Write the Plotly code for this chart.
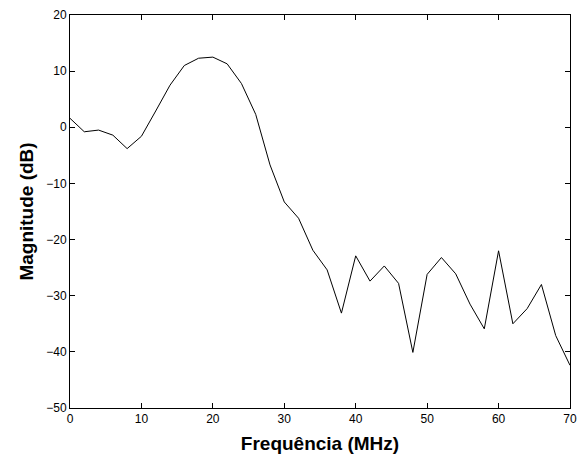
import plotly.graph_objects as go

freq_mhz = list(range(0, 72, 2))
magnitude_db = [1.6, -0.8, -0.5, -1.4, -3.8, -1.6, 2.9, 7.5, 11.0, 12.3, 12.5, 11.3,
                7.8, 2.3, -6.7, -13.3, -16.2, -21.9, -25.4, -33.1, -22.9, -27.4,
                -24.7, -27.8, -40.1, -26.2, -23.2, -26.1, -31.5, -35.9, -22.0,
                -35.0, -32.3, -28.0, -37.1, -42.4]

x_ticks = [0, 10, 20, 30, 40, 50, 60, 70]
y_ticks = [20, 10, 0, -10, -20, -30, -40, -50]

fig = go.Figure(go.Scatter(x=freq_mhz, y=magnitude_db, mode="lines",
                           line=dict(color="black", width=1), showlegend=False))

axis_common = dict(showgrid=False, zeroline=False, showline=True, linecolor="black",
                   linewidth=1, mirror="ticks", ticks="inside", ticklen=5,
                   tickcolor="black", automargin=False,
                   tickfont=dict(family="Liberation Sans, Arial", size=12, color="black"))

fig.update_xaxes(range=[0, 70], tickvals=x_ticks, **axis_common,
                 title=dict(text="<b>Frequência (MHz)</b>", standoff=11,
                            font=dict(family="Liberation Sans, Arial", size=19, color="black")))
fig.update_yaxes(range=[-50, 20], tickvals=y_ticks, **axis_common,
                 title=dict(text="<b>Magnitude (dB)</b>", standoff=7,
                            font=dict(family="Liberation Sans, Arial", size=19, color="black")))

fig.update_layout(width=581, height=458, margin=dict(l=70, r=11, t=15, b=50),
                  plot_bgcolor="white", paper_bgcolor="white")

fig.write_html("out.html", config={"displayModeBar": False},
               post_script="document.body.style.margin='0';document.body.style.overflow='hidden';")
